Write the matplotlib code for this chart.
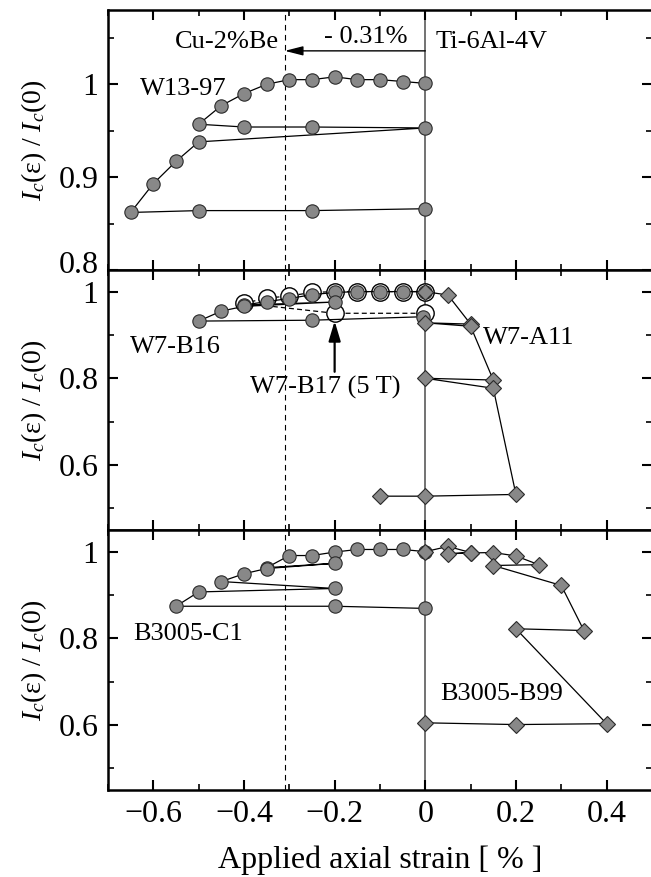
import matplotlib
matplotlib.use('Agg')
import matplotlib.pyplot as plt
from matplotlib.ticker import MultipleLocator, FuncFormatter
from matplotlib.transforms import ScaledTranslation

plt.rcParams['font.family'] = ['Liberation Serif', 'DejaVu Serif']
plt.rcParams['mathtext.fontset'] = 'custom'
plt.rcParams['mathtext.rm'] = 'Liberation Serif'
plt.rcParams['mathtext.it'] = 'Liberation Serif:italic'

# top panel: W13-97 (Ti-6Al-4V holder side, compressive strain)
w13_strain = [0, -0.05, -0.1, -0.15, -0.2, -0.25, -0.3, -0.35, -0.4, -0.45, -0.5,
              -0.4, -0.25, 0, -0.5, -0.55, -0.6, -0.65, -0.5, -0.25, 0]
w13_ic = [1.001, 1.003, 1.005, 1.005, 1.008, 1.005, 1.005, 1.0, 0.990, 0.977, 0.957,
          0.954, 0.954, 0.953, 0.938, 0.917, 0.893, 0.862, 0.864, 0.864, 0.866]

# middle panel
b16_strain = [0, -0.05, -0.1, -0.15, -0.2, -0.25, -0.3, -0.35, -0.4, -0.2, -0.4,
              -0.45, -0.5, -0.25, -0.005]
b16_ic = [1.0, 1.0, 1.0, 1.0, 0.998, 0.993, 0.984, 0.977, 0.969, 0.976, 0.966,
          0.955, 0.932, 0.934, 0.942]

b17_strain = [0, -0.05, -0.1, -0.15, -0.2, -0.25, -0.3, -0.35, -0.4, -0.2, 0]
b17_ic = [1.0, 1.0, 1.0, 1.0, 1.0, 0.998, 0.990, 0.985, 0.973, 0.950, 0.950]

a11_strain = [0, 0.05, 0.1, 0, 0.1, 0.15, 0, 0.15, 0.2, 0, -0.1]
a11_ic = [1.0, 0.992, 0.925, 0.928, 0.920, 0.796, 0.800, 0.777, 0.532, 0.528, 0.528]

# bottom panel
c1_strain = [0, -0.05, -0.1, -0.15, -0.2, -0.25, -0.3, -0.35, -0.2, -0.35, -0.4,
             -0.45, -0.2, -0.5, -0.55, -0.2, 0]
c1_ic = [1.0, 1.005, 1.005, 1.005, 0.999, 0.991, 0.991, 0.963, 0.973, 0.961, 0.949,
         0.931, 0.915, 0.907, 0.874, 0.874, 0.869]

b99_strain = [0, 0.05, 0.1, 0.05, 0.1, 0.15, 0.2, 0.25, 0.15, 0.3, 0.35, 0.2, 0.4, 0.2, 0]
b99_ic = [1.0, 1.012, 0.998, 0.995, 0.997, 0.998, 0.990, 0.970, 0.968, 0.922,
          0.818, 0.822, 0.603, 0.601, 0.605]

ylabel = r'$I_c(\mathrm{\varepsilon})\ /\ I_c(0)$'

filled = dict(marker='o', ms=9.6, mfc='#888888', mec='#2a2a2a', mew=0.8,
              color='k', lw=0.9, zorder=4)
opened = dict(marker='o', ms=12.5, mfc='white', mec='k', mew=1.0,
              color='k', lw=0.9, ls=(0, (4, 2.5)), zorder=3)
diamond = dict(marker='D', ms=7.8, mfc='#888888', mec='#2a2a2a', mew=0.8,
               color='k', lw=0.9, zorder=5)


def fmt(v, pos):
    return ('%g' % round(v, 3)).replace('-', '\u2212')


fig = plt.figure(figsize=(6.51, 8.77), dpi=100)
left, width, h = 0.1659, 0.8355, 0.2965
axes = [fig.add_axes([left, b, width, h]) for b in (0.6921, 0.3957, 0.0992)]

for i, ax in enumerate(axes):
    ax.set_xlim(-0.7, 0.5)
    ax.axvline(0, color='#5a5a5a', lw=1.2, zorder=1)
    ax.axvline(-0.31, color='k', lw=0.8, ls=(0, (5, 4)), zorder=1)
    ax.xaxis.set_major_locator(MultipleLocator(0.2))
    ax.xaxis.set_minor_locator(MultipleLocator(0.1))
    ax.xaxis.set_major_formatter(FuncFormatter(fmt))
    ax.yaxis.set_major_formatter(FuncFormatter(fmt))
    ax.tick_params(which='both', direction='in', top=True, right=True,
                   labelsize=23, width=1.5, pad=7)
    ax.tick_params(which='major', length=7)
    ax.tick_params(which='minor', length=4.5, width=1.2)
    for s in ax.spines.values():
        s.set_linewidth(1.8)
    ax.set_ylabel(ylabel, fontsize=20)
    ax.yaxis.set_label_coords(-0.108, 0.5)
    if i < 2:
        ax.tick_params(labelbottom=False)

ax1, ax2, ax3 = axes

ax1.set_ylim(0.8, 1.08)
ax1.yaxis.set_major_locator(MultipleLocator(0.1))
ax1.yaxis.set_minor_locator(MultipleLocator(0.05))
ax1.plot(w13_strain, w13_ic, **filled)
ax1.annotate('', xy=(-0.31, 1.036), xytext=(0, 1.036),
             arrowprops=dict(arrowstyle='-|>,head_length=0.55,head_width=0.14',
                             color='k', lw=1, mutation_scale=20,
                             shrinkA=0, shrinkB=0))
ax1.text(-0.322, 1.046, 'Cu-2%Be', fontsize=19, ha='right', va='center')
ax1.text(-0.132, 1.051, '- 0.31%', fontsize=19, ha='center', va='center')
ax1.text(0.023, 1.046, 'Ti-6Al-4V', fontsize=19, ha='left', va='center')
ax1.text(-0.63, 0.995, 'W13-97', fontsize=19, ha='left', va='center')

for ax in (ax2, ax3):
    ax.set_ylim(0.45, 1.05)
    ax.yaxis.set_major_locator(MultipleLocator(0.2))
    ax.yaxis.set_minor_locator(MultipleLocator(0.1))

ax2.plot(b17_strain, b17_ic, **opened)
ax2.plot(b16_strain, b16_ic, **filled)
ax2.plot(a11_strain, a11_ic, **diamond)
ax2.annotate('', xy=(-0.2, 0.932), xytext=(-0.2, 0.815),
             arrowprops=dict(arrowstyle='-|>,head_length=0.6,head_width=0.18',
                             color='k', lw=1.6, mutation_scale=20,
                             shrinkA=0, shrinkB=0), zorder=6)
ax2.text(-0.652, 0.873, 'W7-B16', fontsize=19, ha='left', va='center')
ax2.text(0.127, 0.894, 'W7-A11', fontsize=19, ha='left', va='center')
ax2.text(-0.387, 0.78, 'W7-B17 (5 T)', fontsize=19, ha='left', va='center')

ax3.plot(c1_strain, c1_ic, **filled)
ax3.plot(b99_strain, b99_ic, **diamond)
ax3.text(-0.645, 0.809, 'B3005-C1', fontsize=19, ha='left', va='center')
ax3.text(0.032, 0.671, 'B3005-B99', fontsize=19, ha='left', va='center')
ax3.set_xlabel('Applied axial strain [ % ]', fontsize=23, labelpad=12)

# nudge the lowest label of the top panel up a little, clear of the "1" below
fig.canvas.draw()
lift = ScaledTranslation(0, 6 / 72, fig.dpi_scale_trans)
for tick in ax1.yaxis.get_major_ticks():
    if abs(tick.get_loc() - 0.8) < 1e-6:
        tick.label1.set_transform(tick.label1.get_transform() + lift)

fig.savefig('out.png', dpi=100)
